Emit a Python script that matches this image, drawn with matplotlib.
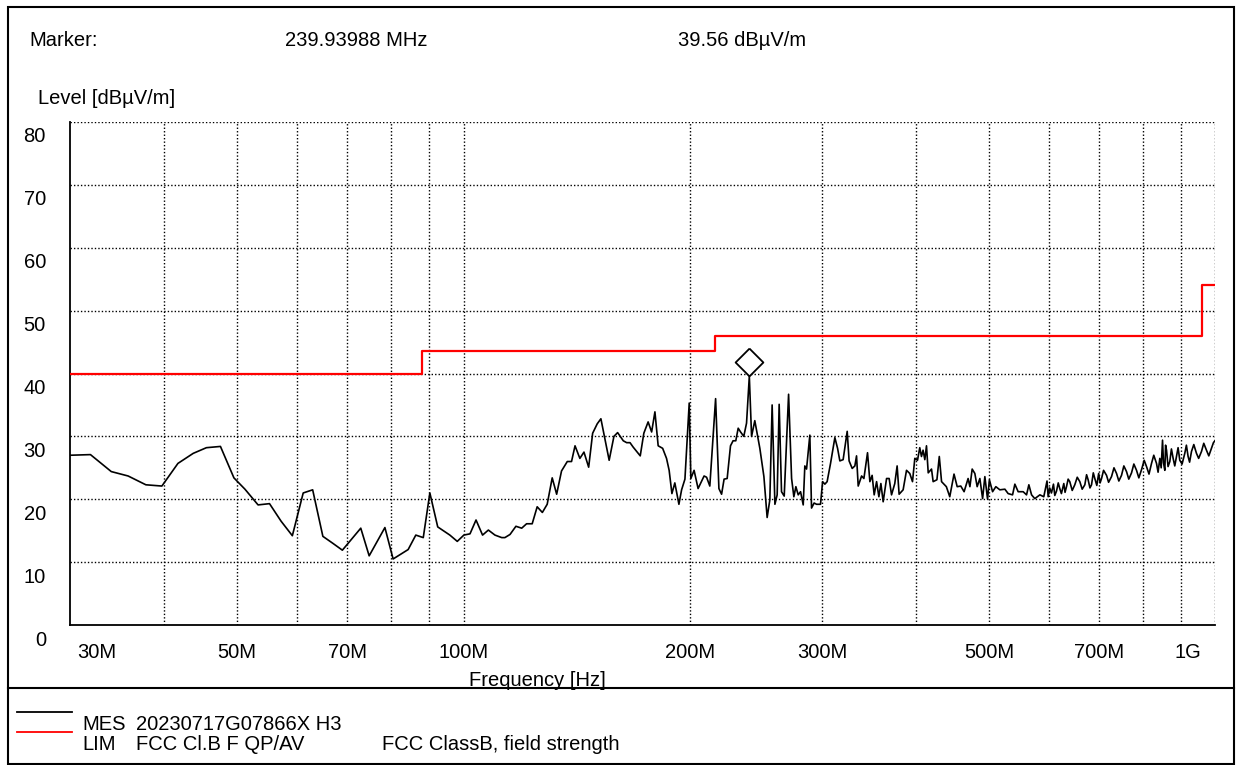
import matplotlib
matplotlib.use("Agg")
import matplotlib.pyplot as plt
from matplotlib.transforms import ScaledTranslation, blended_transform_factory
from matplotlib.lines import Line2D
from matplotlib.patches import Rectangle

plt.rcParams['font.family'] = ['Liberation Sans', 'DejaVu Sans']

# measured trace (MHz, dBuV/m)
freq_mhz = [
    30.0, 31.9, 34.0, 35.8, 37.8, 39.7, 41.7, 43.7, 45.5, 47.5, 49.5, 51.2, 53.3, 55.2,
    57.2, 59.2, 61.2, 63.0, 65.0, 67.0, 69.0, 73.0, 74.9, 76.6, 78.6, 80.6, 84.4, 86.4,
    88.4, 90.2, 92.4, 95.9, 98.1, 100.1, 102.0, 103.9, 106.0, 107.9, 110.1, 112.4, 113.5,
    115.3, 117.4, 119.5, 121.3, 123.4, 125.3, 127.3, 129.2, 131.2, 133.0, 135.0, 137.4,
    139.2, 140.7, 142.8, 144.6, 146.7, 148.5, 150.6, 152.3, 154.5, 156.2, 158.5, 160.3,
    163.1, 164.8, 166.5, 168.1, 171.8, 173.7, 176.0, 177.9, 179.7, 181.5, 184.0, 186.2,
    187.7, 189.3, 191.0, 193.4, 195.0, 197.0, 199.6, 200.6, 202.6, 205.1, 208.9, 210.5,
    212.6, 216.4, 218.6, 220.4, 222.1, 224.2, 226.5, 228.3, 230.2, 231.9, 233.6, 235.9,
    237.9, 239.94, 241.6, 244.0, 247.8, 250.9, 253.4, 255.5, 257.3, 259.5, 261.3, 262.9,
    264.8, 267.0, 270.6, 273.1, 275.0, 276.7, 278.7, 280.7, 283.0, 284.4, 285.9, 288.8,
    290.3, 292.6, 294.8, 298.4, 300.3, 302.4, 304.5, 307.7, 311.8, 314.4, 316.6, 319.8,
    323.8, 325.7, 328.8, 331.5, 333.2, 334.9, 338.4, 340.8, 344.6, 347.1, 349.5, 351.7,
    354.3, 356.8, 359.0, 361.5, 365.3, 368.2, 370.9, 374.6, 377.3, 379.6, 384.3, 388.3,
    392.2, 395.5, 398.3, 401.6, 404.4, 406.5, 408.5, 410.7, 412.8, 415.0, 419.2, 421.3,
    426.2, 429.3, 432.3, 438.7, 443.3, 449.1, 453.5, 458.5, 463.2, 468.9, 471.5, 474.8,
    478.7, 482.1, 486.1, 490.2, 493.6, 497.7, 500.5, 505.4, 510.5, 516.8, 524.8, 530.1,
    537.3, 541.1, 546.6, 555.0, 560.8, 564.8, 569.5, 575.2, 584.2, 591.2, 597.1, 599.2,
    602.0, 605.3, 609.0, 611.5, 614.7, 618.0, 620.9, 624.0, 628.6, 631.0, 633.8, 637.0,
    640.2, 645.0, 650.1, 655.0, 660.2, 665.0, 670.4, 674.0, 677.2, 681.0, 684.3, 688.0,
    691.2, 695.5, 699.4, 702.5, 705.6, 710.0, 716.5, 721.0, 727.5, 733.0, 738.8, 744.0,
    750.1, 755.5, 761.7, 767.0, 773.5, 779.0, 785.4, 791.0, 798.0, 804.0, 809.8, 816.0,
    822.3, 828.0, 835.0, 839.0, 843.5, 847.0, 850.5, 853.0, 856.5, 858.5, 861.0, 865.0,
    869.7, 874.0, 878.6, 883.0, 887.8, 892.0, 896.7, 903.0, 910.5, 915.0, 919.8, 924.0,
    929.4, 936.0, 943.7, 950.0, 958.3, 965.0, 973.0, 980.0, 988.1, 994.0, 1000.0,
]
level = [
    27.0, 27.1, 24.4, 23.7, 22.3, 22.1, 25.7, 27.3, 28.2, 28.4, 23.4, 21.6, 19.1, 19.3,
    16.5, 14.2, 21.0, 21.5, 14.1, 13.0, 11.9, 15.4, 11.0, 13.1, 15.5, 10.5, 12.0, 14.3,
    13.9, 21.0, 15.6, 14.3, 13.3, 14.3, 14.5, 16.7, 14.3, 15.1, 14.3, 13.9, 13.9,
    14.4, 15.7, 15.4, 16.1, 16.1, 18.8, 17.9, 19.2, 23.4, 20.8, 24.5, 26.0,
    26.0, 28.5, 26.5, 27.5, 25.1, 30.5, 32.0, 32.8, 29.1, 26.2, 30.0, 30.6,
    29.3, 29.0, 29.0, 28.3, 26.9, 30.5, 32.3, 30.7, 33.9, 28.5, 28.1, 26.5,
    24.6, 20.9, 22.6, 19.2, 21.5, 23.2, 35.3, 23.3, 24.6, 21.7, 23.7, 23.5,
    22.1, 36.0, 21.7, 20.8, 23.2, 23.3, 28.5, 29.3, 29.3, 31.3, 30.7, 30.0,
    32.1, 39.56, 30.0, 32.5, 28.1, 23.6, 17.1, 19.9, 35.0, 19.2, 20.7, 35.1,
    21.2, 20.5, 36.7, 23.3, 20.4, 22.0, 20.7, 21.2, 19.1, 25.3, 24.8, 30.2,
    18.6, 19.4, 19.2, 19.2, 22.8, 22.4, 22.8, 25.7, 29.8, 28.1, 26.1, 26.3,
    30.8, 26.1, 24.9, 25.3, 26.9, 22.1, 23.7, 23.3, 27.4, 22.8, 23.8, 20.7,
    22.8, 20.4, 22.5, 19.6, 23.3, 23.3, 20.7, 22.5, 25.3, 20.8, 21.5, 24.6,
    24.1, 22.8, 26.5, 26.2, 28.2, 26.8, 27.8, 26.3, 28.5, 24.2, 24.8, 22.8,
    23.1, 26.8, 22.8, 22.0, 20.4, 24.0, 22.0, 22.1, 21.2, 23.3, 22.0, 24.8,
    24.1, 22.0, 23.3, 20.1, 23.6, 20.0, 23.1, 21.2, 22.0, 21.5, 21.6, 20.9,
    20.7, 22.4, 21.2, 21.2, 20.7, 22.3, 20.7, 20.1, 20.7, 20.4, 22.9, 20.4,
    21.8, 21.0, 22.4, 20.6, 21.3, 22.6, 21.7, 20.9, 22.5, 21.1, 22.0, 23.2,
    22.8, 21.4, 22.3, 23.5, 22.8, 21.6, 22.3, 23.9, 23.1, 21.8, 22.3, 24.2,
    23.3, 22.2, 24.1, 22.6, 23.3, 24.6, 23.8, 22.7, 23.6, 25.0, 24.1, 22.9,
    23.8, 25.3, 24.4, 23.2, 24.2, 25.6, 24.6, 23.4, 24.8, 26.2, 25.2, 24.0,
    25.7, 27.0, 25.7, 24.3, 26.5, 25.0, 29.4, 25.8, 24.6, 28.6, 27.8, 25.2,
    26.0, 28.0, 26.5, 25.3, 26.8, 28.2, 26.2, 25.6, 27.3, 28.6, 26.8, 25.9,
    27.6, 28.7, 27.3, 26.5, 27.6, 28.9, 27.8, 26.9, 28.1, 29.0, 29.4,
]

# FCC class B limit (step line)
lim_freq = [30.0, 88.0, 88.0, 216.0, 216.0, 960.0, 960.0, 1000.0]
lim_level = [40.0, 40.0, 43.5, 43.5, 46.0, 46.0, 54.0, 54.0]

marker_freq = 239.93988
marker_level = 39.56

x_ticks = [30, 50, 70, 100, 200, 300, 500, 700, 1000]
x_tick_labels = ['30M', '50M', '70M', '100M', '200M', '300M', '500M', '700M', '1G']
x_grid = [40, 50, 60, 70, 80, 90, 100, 200, 300, 400, 500, 600, 700, 800, 900, 1000]
y_ticks = [0, 10, 20, 30, 40, 50, 60, 70, 80]

W, H = 1236, 765
FS = 14.5


def fx(px):
    return px / W


def fy(py):
    return 1 - py / H


fig = plt.figure(figsize=(W / 100, H / 100), dpi=100)
ax = fig.add_axes([fx(70.4), fy(625), fx(1215.4) - fx(70.4), fy(122) - fy(625)])
ax.set_xscale('log')
ax.set_xlim(30, 1000)
ax.set_ylim(0, 80)

# grid
grid_style = dict(color='black', lw=1.0, linestyle=(0, (1, 1.5)), zorder=1)
for g in x_grid:
    ax.axvline(g, **grid_style)
for y in y_ticks[1:]:
    ax.axhline(y, **grid_style)

ax.plot(lim_freq, lim_level, color='#ff0000', lw=1.6, zorder=3)
ax.plot(freq_mhz, level, color='black', lw=1.2, zorder=4)

# marker diamond drawn just above the peak
diamond = [(0, 1), (1, 0), (0, -1), (-1, 0), (0, 1)]
off = ax.transData + ScaledTranslation(0, 0.14, fig.dpi_scale_trans)
ax.plot([marker_freq], [marker_level], marker=diamond, ms=20, mfc='white', mec='black',
        mew=1.3, transform=off, zorder=5, clip_on=False)

for side in ['top', 'right']:
    ax.spines[side].set_visible(False)
ax.spines['left'].set_linewidth(1.3)
ax.spines['bottom'].set_linewidth(1.3)

ax.set_xticks(x_ticks, x_tick_labels, fontsize=FS)
ax.xaxis.set_minor_locator(matplotlib.ticker.NullLocator())
ax.tick_params(axis='x', length=0, pad=13)
xl = ax.get_xticklabels()
xl[0].set_ha('left')
xl[0].set_transform(xl[0].get_transform() + ScaledTranslation(0.07, 0, fig.dpi_scale_trans))
xl[-1].set_ha('right')
xl[-1].set_transform(xl[-1].get_transform() + ScaledTranslation(-0.14, 0, fig.dpi_scale_trans))
ax.set_yticks([])

ytrans = blended_transform_factory(fig.transFigure, ax.transData)
for y in y_ticks:
    ax.text(fx(46), y, str(y), transform=ytrans + ScaledTranslation(0, -0.15, fig.dpi_scale_trans),
            ha='right', va='center', fontsize=FS)

# header and axis titles
fig.text(fx(29), fy(40), 'Marker:', fontsize=FS, va='center')
fig.text(fx(285), fy(40), '%.5f MHz' % marker_freq, fontsize=FS, va='center')
fig.text(fx(678), fy(40), '%.2f dBµV/m' % marker_level, fontsize=FS, va='center')
fig.text(fx(38), fy(98), 'Level [dBµV/m]', fontsize=FS, va='center')
fig.text(fx(537), fy(680), 'Frequency [Hz]', fontsize=FS, va='center', ha='center')

# frame and legend box
fig.add_artist(Rectangle((fx(8), fy(764)), fx(1234) - fx(8), fy(7) - fy(764), transform=fig.transFigure,
                         fill=False, lw=1.5, edgecolor='black'))
fig.add_artist(Line2D([fx(8), fx(1234)], [fy(688), fy(688)], transform=fig.transFigure, color='black', lw=1.5))
fig.add_artist(Line2D([fx(17), fx(72)], [fy(712), fy(712)], transform=fig.transFigure, color='black', lw=1.3))
fig.add_artist(Line2D([fx(17), fx(72)], [fy(732), fy(732)], transform=fig.transFigure, color='#ff0000', lw=1.3))
fig.text(fx(82), fy(724), 'MES', fontsize=FS, va='center')
fig.text(fx(136), fy(724), '20230717G07866X H3', fontsize=FS, va='center')
fig.text(fx(82), fy(745), 'LIM', fontsize=FS, va='center')
fig.text(fx(136), fy(745), 'FCC Cl.B F QP/AV', fontsize=FS, va='center')
fig.text(fx(382), fy(745), 'FCC ClassB, field strength', fontsize=FS, va='center')

fig.savefig('out.png', dpi=100)
